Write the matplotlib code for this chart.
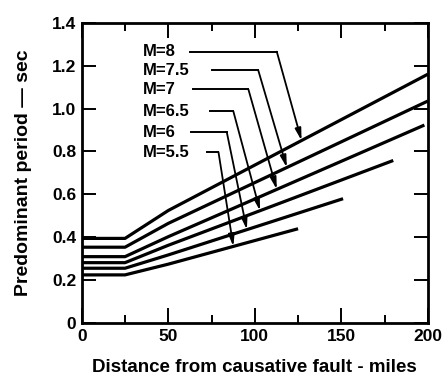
import matplotlib
matplotlib.use("Agg")
import matplotlib.pyplot as plt
import numpy as np
from matplotlib.ticker import MultipleLocator

# ---- data ----
magnitudes = ["M=8", "M=7.5", "M=7", "M=6.5", "M=6", "M=5.5"]
dist_m8 = [0, 25, 50, 200]
per_m8 = [0.395, 0.395, 0.525, 1.16]
dist_m75 = [0, 25, 50, 200]
per_m75 = [0.354, 0.354, 0.465, 1.035]
dist_m7 = [0, 25, 50, 198]
per_m7 = [0.31, 0.31, 0.403, 0.923]
dist_m65 = [0, 25, 50, 180]
per_m65 = [0.282, 0.282, 0.363, 0.758]
dist_m6 = [0, 25, 50, 151]
per_m6 = [0.256, 0.256, 0.318, 0.58]
dist_m55 = [0, 25, 50, 125]
per_m55 = [0.225, 0.225, 0.275, 0.44]

series = [(dist_m8, per_m8), (dist_m75, per_m75), (dist_m7, per_m7),
          (dist_m65, per_m65), (dist_m6, per_m6), (dist_m55, per_m55)]

# label annotation layout: label y, leader start x, leader corner x, arrow tip x
label_y = [1.265, 1.178, 1.089, 0.987, 0.890, 0.797]
lead_start = [62.5, 75.0, 64.0, 74.0, 63.0, 72.5]
lead_corner = [112.7, 102.0, 96.3, 87.6, 83.8, 79.0]
tip_x = [127.0, 118.5, 112.7, 103.0, 95.4, 87.6]

xticks = [0, 50, 100, 150, 200]
yticks = [0, 0.2, 0.4, 0.6, 0.8, 1.0, 1.2, 1.4]
ytick_labels = ["0", "0.2", "0.4", "0.6", "0.8", "1.0", "1.2", "1.4"]

font = "Liberation Sans"

fig = plt.figure(figsize=(4.42, 3.78), dpi=100)
ax = fig.add_axes([0.185, 0.145, 0.783, 0.795])

for (x, y) in series:
    ax.plot(x, y, color="black", lw=2.3, solid_capstyle="butt")

for name, ly, xs, xc, xt, (x, y) in zip(magnitudes, label_y, lead_start,
                                       lead_corner, tip_x, series):
    ax.text(35.6, ly, name, fontsize=12, fontweight="bold", family=font,
            va="center", ha="left")
    ax.plot([xs, xc], [ly, ly], color="black", lw=1.4)
    yt = float(np.interp(xt, x, y))
    ax.annotate("", xy=(xt, yt), xytext=(xc, ly),
                arrowprops=dict(arrowstyle="-|>,head_width=0.18,head_length=0.7",
                                color="black", lw=1.3, shrinkA=0, shrinkB=0))

ax.set_xlim(0, 200)
ax.set_ylim(0, 1.4)
ax.set_xticks(xticks)
ax.xaxis.set_minor_locator(MultipleLocator(25))
ax.set_yticks(yticks)
ax.set_yticklabels(ytick_labels)

for s in ax.spines.values():
    s.set_linewidth(2.0)

ax.tick_params(axis="x", which="major", direction="in", length=11, width=1.4,
               top=True, pad=4)
ax.tick_params(axis="x", which="minor", direction="in", length=6, width=1.4,
               top=True)
ax.tick_params(axis="y", which="major", direction="in", length=10, width=1.4,
               right=True, pad=4)

for lab in ax.get_xticklabels() + ax.get_yticklabels():
    lab.set_fontsize(12.5)
    lab.set_fontweight("bold")
    lab.set_family(font)

ax.set_xlabel("Distance from causative fault - miles", fontsize=13.5,
              fontweight="bold", family=font, labelpad=11)
ax.set_ylabel("Predominant period \u2014 sec", fontsize=14,
              fontweight="bold", family=font, labelpad=14)

fig.savefig("out.png", dpi=100)
